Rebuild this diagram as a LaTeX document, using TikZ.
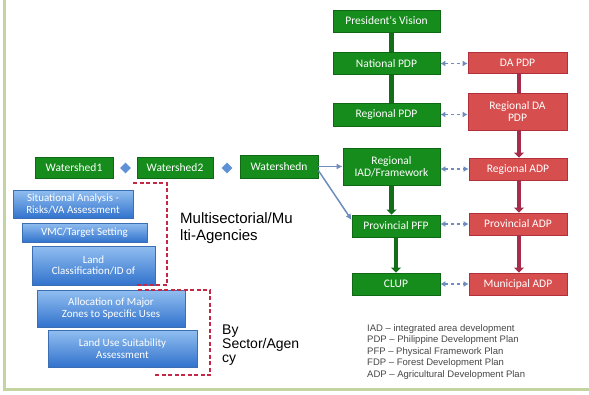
\documentclass[tikz,border=0pt]{standalone}
\usepackage{fontspec}
\setmainfont{Liberation Sans}
\newfontfamily\boxfont{Carlito}
\usetikzlibrary{shapes.geometric,arrows.meta}
\definecolor{gbox}{RGB}{22,140,28}
\definecolor{gdraw}{RGB}{15,105,20}
\definecolor{rbox}{RGB}{215,78,78}
\definecolor{rdraw}{RGB}{178,48,58}
\definecolor{rline}{RGB}{165,45,75}
\definecolor{gline}{RGB}{20,110,25}
\definecolor{bline}{RGB}{110,140,190}
\definecolor{btop}{RGB}{145,190,240}
\definecolor{bbot}{RGB}{50,115,205}
\definecolor{bdraw}{RGB}{60,110,180}
\definecolor{brk}{RGB}{195,40,70}
\definecolor{frm}{RGB}{195,212,160}
\definecolor{dia}{RGB}{95,145,215}
\definecolor{legtext}{RGB}{70,70,70}
\begin{document}
\begin{tikzpicture}[x=1pt,y=-1pt,
  gb/.style={draw=gdraw,fill=gbox,text=white,font=\boxfont\fontsize{11.5}{12}\selectfont,inner sep=0pt,align=center,line width=0.8pt},
  rb/.style={draw=rdraw,fill=rbox,text=white,font=\boxfont\fontsize{11.5}{12}\selectfont,inner sep=0pt,align=center,line width=0.8pt},
  bb/.style={draw=bdraw,top color=btop,bottom color=bbot,text=white,font=\boxfont\fontsize{11}{11.5}\selectfont,inner sep=0pt,align=center,line width=0.6pt},
  gbar/.style={draw=gline,line width=4.5pt},
  garr/.style={draw=gline,line width=4.5pt,-{Triangle[length=5pt,width=10pt]}},
  rbar/.style={draw=rline,line width=4.5pt},
  rarr/.style={draw=rline,line width=4.5pt,-{Triangle[length=5pt,width=10pt]}},
  dconn/.style={draw=bline,dashed,line width=1.5pt,{Latex[length=5pt,width=6pt]}-{Latex[length=5pt,width=6pt]}},
  sconn/.style={draw=bline,line width=1.5pt,-{Latex[length=6pt,width=6pt]}},
  brack/.style={draw=brk,dashed,line width=1.6pt,dash pattern=on 4pt off 2.5pt},
  dmd/.style={diamond,fill=dia,inner sep=0pt,minimum size=11pt},
  note/.style={align=left,inner sep=0pt,anchor=north west}
]
\useasboundingbox (0,0) rectangle (589,394);
\draw[frm,line width=2.5pt] (4.7,0) -- (4.7,389.5) -- (589,389.5);

% green column
\node[gb,minimum width=107pt,minimum height=22pt] (PV) at (386.5,21) {President's Vision};
\node[gb,minimum width=107pt,minimum height=22pt] (NPDP) at (386.5,63.5) {National PDP};
\node[gb,minimum width=107pt,minimum height=23pt] (RPDP) at (386.5,114.5) {Regional PDP};
\node[gb,minimum width=97pt,minimum height=37pt] (RIAD) at (391.5,166.5) {Regional\\IAD/Framework};
\node[gb,minimum width=88pt,minimum height=22pt] (PPFP) at (396,226) {Provincial PFP};
\node[gb,minimum width=88pt,minimum height=22pt] (CLUP) at (396,284) {CLUP};

% red column
\node[rb,minimum width=99pt,minimum height=21pt] (DAPDP) at (517.5,62.5) {DA PDP};
\node[rb,minimum width=99pt,minimum height=37pt] (RDAPDP) at (517.5,111.5) {Regional DA\\PDP};
\node[rb,minimum width=98pt,minimum height=22pt] (RADP) at (518,169) {Regional ADP};
\node[rb,minimum width=98pt,minimum height=22pt] (PADP) at (518,224) {Provincial ADP};
\node[rb,minimum width=98pt,minimum height=22pt] (MADP) at (518,284) {Municipal ADP};

% watersheds
\node[gb,minimum width=78pt,minimum height=21pt] (W1) at (74,167.5) {Watershed1};
\node[gb,minimum width=76pt,minimum height=21pt] (W2) at (175,167.5) {Watershed2};
\node[gb,minimum width=78pt,minimum height=23pt] (Wn) at (279,166.5) {Watershedn};
\node[dmd] (D1) at (125.5,168) {};
\node[dmd] (D2) at (227,168) {};

% blue steps
\node[bb,minimum width=120pt,minimum height=28pt] (B1) at (73,204) {Situational Analysis -\\Risks/VA Assessment};
\node[bb,minimum width=125pt,minimum height=19pt] (B2) at (84.5,232.5) {VMC/Target Setting};
\node[bb,minimum width=123pt,minimum height=39pt] (B3) at (93.5,265.5) {Land\\Classification/ID of};
\node[bb,minimum width=148pt,minimum height=37pt] (B4) at (111,308.5) {Allocation of Major\\Zones to Specific Uses};
\node[bb,minimum width=149pt,minimum height=37pt] (B5) at (122.5,348.5) {Land Use Suitability\\Assessment};

% green connectors
\draw[gbar] ([xshift=5pt]PV.south) -- ([xshift=5pt]NPDP.north);
\draw[gbar] ([xshift=5pt]NPDP.south) -- ([xshift=5pt]RPDP.north);
\draw[garr] (RIAD.south) -- (RIAD.south |- PPFP.north);
\draw[garr] (PPFP.south) -- (CLUP.north);

% red connectors
\draw[rbar] ([xshift=1.5pt]DAPDP.south) -- ([xshift=1.5pt]RDAPDP.north);
\draw[rarr] ([xshift=1.5pt]RDAPDP.south) -- ([xshift=1.5pt]RDAPDP.south |- RADP.north);
\draw[rarr] ([xshift=1pt]RADP.south) -- ([xshift=1pt]PADP.north);
\draw[rarr] ([xshift=1pt]PADP.south) -- ([xshift=1pt]MADP.north);

% dashed links
\draw[dconn] (NPDP.east) -- (NPDP.east -| DAPDP.west);
\draw[dconn] (RPDP.east) -- (RPDP.east -| RDAPDP.west);
\draw[dconn] (RIAD.east |- RADP.west) -- (RADP.west);
\draw[dconn] (PPFP.east |- PADP.west) -- (PADP.west);
\draw[dconn] (CLUP.east) -- (MADP.west);

% watershed links
\draw[sconn] (Wn.east) -- (Wn.east -| RIAD.west);
\draw[sconn] ([yshift=-4pt]Wn.east) -- ([yshift=6pt]PPFP.west);

% brackets
\draw[brack] (133,183) -- (167,183) -- (167,285) -- (134,285);
\draw[brack] (138,290) -- (210,290) -- (210,375) -- (155,375);

% notes
\node[note,font=\fontsize{15}{17}\selectfont] (ms) at (180,212) {Multisectorial/Mu\\lti-Agencies};
\node[note,font=\fontsize{14}{14}\selectfont] (bs) at (222,325) {By\\Sector/Agen\\cy};
\node[note,text=legtext,font=\fontsize{9.5}{11.5}\selectfont] (leg) at (367,324) {IAD -- integrated area development\\PDP -- Philippine Development Plan\\PFP -- Physical Framework Plan\\FDP -- Forest Development Plan\\ADP -- Agricultural Development Plan};
\end{tikzpicture}
\end{document}
